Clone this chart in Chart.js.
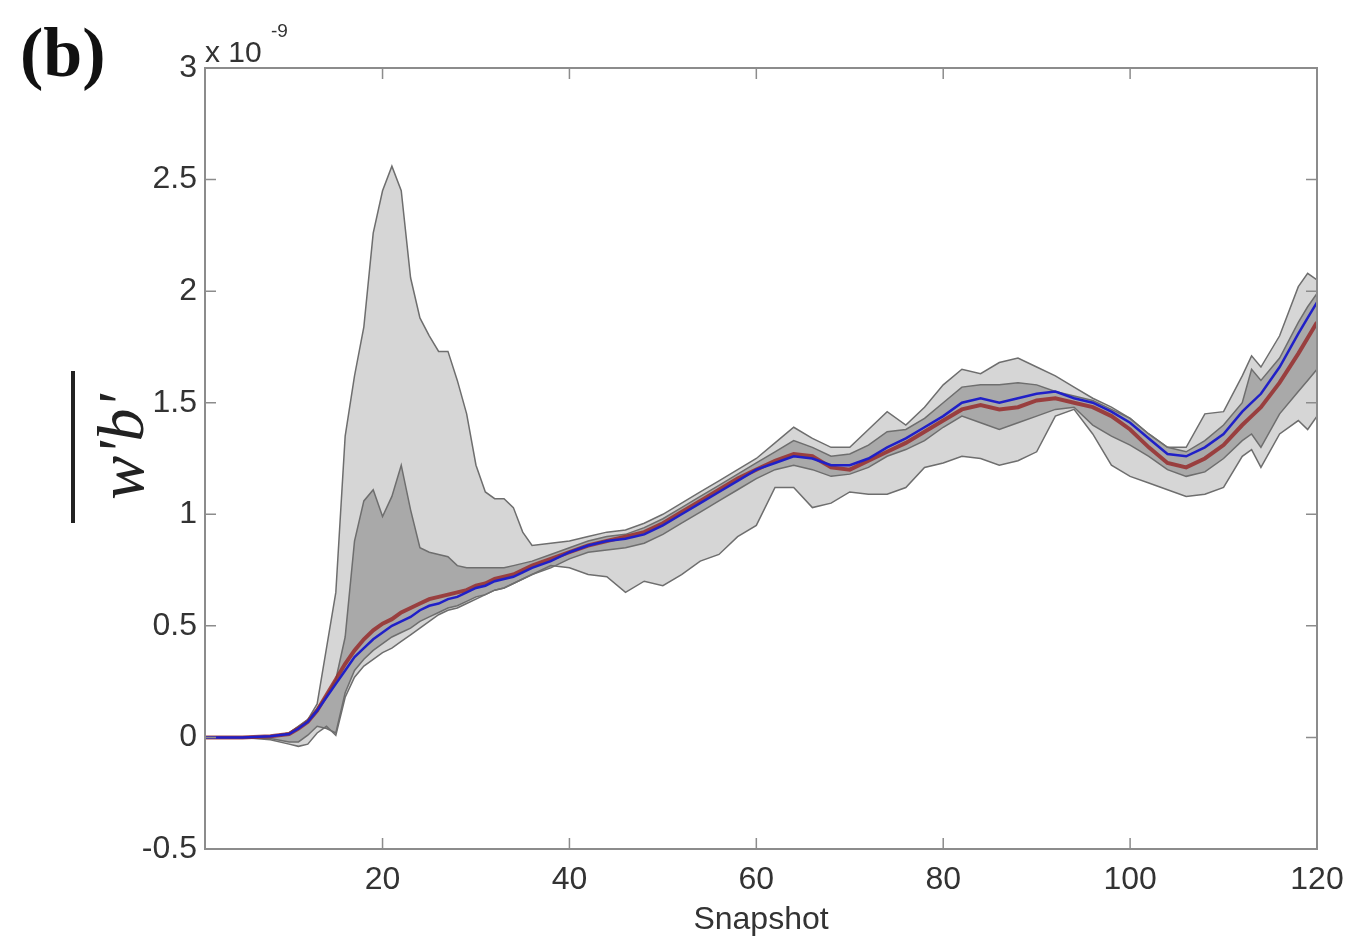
<!DOCTYPE html>
<html>
<head>
<meta charset="utf-8">
<script src="https://cdn.jsdelivr.net/npm/chart.js@4"></script>
<style>
  html, body { margin: 0; padding: 0; background: #fff; }
</style>
</head>
<body>
<canvas id="chart" width="1348" height="943"></canvas>
<script>
const snapshot = [1, 5, 8, 10,
  11, 12, 13, 14, 15, 16, 17, 18, 19, 20,
  21, 22, 23, 24, 25, 26, 27, 28, 29, 30,
  31, 32, 33, 34, 35, 36,
  38, 40, 42, 44, 46, 48, 50, 52, 54, 56,
  58, 60, 62, 64, 66, 68, 70, 72, 74, 76,
  78, 80, 82, 84, 86, 88, 90, 92, 94, 96,
  98, 100, 102, 104, 106, 108, 110, 112,
  113, 114, 116, 118, 119, 120];

// values in units of 1e-9
const meanBlue = [0, 0, 0.005, 0.015,
  0.04, 0.07, 0.12, 0.18, 0.24, 0.30, 0.36, 0.40, 0.44, 0.47,
  0.50, 0.52, 0.54, 0.57, 0.59, 0.60, 0.62, 0.63, 0.65, 0.67,
  0.68, 0.70, 0.71, 0.72, 0.74, 0.76,
  0.79, 0.83, 0.86, 0.88, 0.89, 0.91, 0.95, 1.00, 1.05, 1.10,
  1.15, 1.20, 1.23, 1.26, 1.25, 1.22, 1.22, 1.25, 1.30, 1.34,
  1.39, 1.44, 1.50, 1.52, 1.50, 1.52, 1.54, 1.55, 1.52, 1.50,
  1.46, 1.41, 1.34, 1.27, 1.26, 1.30, 1.36, 1.46,
  1.50, 1.54, 1.66, 1.81, 1.88, 1.95];

const meanRed = [0, 0, 0.005, 0.015,
  0.04, 0.07, 0.12, 0.19, 0.26, 0.33, 0.39, 0.44, 0.48, 0.51,
  0.53, 0.56, 0.58, 0.60, 0.62, 0.63, 0.64, 0.65, 0.66, 0.68,
  0.69, 0.71, 0.72, 0.73, 0.75, 0.77,
  0.80, 0.83, 0.86, 0.88, 0.90, 0.92, 0.96, 1.01, 1.06, 1.11,
  1.16, 1.20, 1.24, 1.27, 1.26, 1.21, 1.20, 1.24, 1.28, 1.32,
  1.37, 1.42, 1.47, 1.49, 1.47, 1.48, 1.51, 1.52, 1.50, 1.48,
  1.44, 1.38, 1.30, 1.23, 1.21, 1.25, 1.31, 1.40,
  1.44, 1.48, 1.59, 1.72, 1.79, 1.86];

const innerUpper = [0, 0, 0.005, 0.02,
  0.05, 0.08, 0.13, 0.19, 0.26, 0.45, 0.88, 1.06, 1.11, 0.99,
  1.08, 1.22, 1.02, 0.85, 0.83, 0.82, 0.81, 0.77, 0.76, 0.76,
  0.76, 0.76, 0.76, 0.77, 0.78, 0.79,
  0.82, 0.85, 0.88, 0.90, 0.91, 0.94, 0.98, 1.03, 1.08, 1.13,
  1.18, 1.23, 1.28, 1.33, 1.30, 1.26, 1.27, 1.31, 1.37, 1.38,
  1.43, 1.50, 1.57, 1.58, 1.58, 1.59, 1.58, 1.55, 1.53, 1.51,
  1.47, 1.43, 1.36, 1.30, 1.28, 1.33, 1.40, 1.50,
  1.65, 1.60, 1.70, 1.86, 1.93, 1.99];

const innerLower = [0, 0, -0.005, -0.02,
  -0.02, 0.01, 0.05, 0.04, 0.02, 0.20, 0.30, 0.35, 0.39, 0.42,
  0.45, 0.47, 0.49, 0.52, 0.54, 0.56, 0.58, 0.59, 0.61, 0.63,
  0.64, 0.66, 0.67, 0.69, 0.71, 0.73,
  0.76, 0.80, 0.83, 0.84, 0.85, 0.87, 0.91, 0.96, 1.01, 1.06,
  1.11, 1.16, 1.20, 1.22, 1.20, 1.17, 1.18, 1.21, 1.26, 1.29,
  1.33, 1.39, 1.44, 1.41, 1.38, 1.41, 1.44, 1.47, 1.48, 1.40,
  1.35, 1.31, 1.26, 1.20, 1.17, 1.19, 1.25, 1.33,
  1.36, 1.30, 1.45, 1.55, 1.60, 1.65];

const outerUpper = [0, 0, 0.005, 0.02,
  0.05, 0.08, 0.15, 0.40, 0.65, 1.35, 1.62, 1.84, 2.26, 2.45,
  2.56, 2.45, 2.06, 1.88, 1.80, 1.73, 1.73, 1.60, 1.45, 1.22,
  1.10, 1.07, 1.07, 1.03, 0.92, 0.86,
  0.87, 0.88, 0.90, 0.92, 0.93, 0.96, 1.00, 1.05, 1.10, 1.15,
  1.20, 1.25, 1.32, 1.39, 1.34, 1.30, 1.30, 1.38, 1.46, 1.40,
  1.48, 1.58, 1.65, 1.63, 1.68, 1.70, 1.66, 1.62, 1.57, 1.52,
  1.48, 1.43, 1.36, 1.30, 1.30, 1.45, 1.46, 1.62,
  1.71, 1.66, 1.80, 2.02, 2.08, 2.05];

const outerLower = [0, 0, -0.01, -0.03,
  -0.04, -0.03, 0.02, 0.05, 0.01, 0.18, 0.27, 0.32, 0.35, 0.38,
  0.40, 0.43, 0.46, 0.49, 0.52, 0.55, 0.57, 0.58, 0.60, 0.62,
  0.64, 0.66, 0.67, 0.69, 0.71, 0.73,
  0.77, 0.76, 0.73, 0.72, 0.65, 0.70, 0.68, 0.73, 0.79, 0.82,
  0.90, 0.95, 1.12, 1.12, 1.03, 1.05, 1.10, 1.09, 1.09, 1.12,
  1.21, 1.23, 1.26, 1.25, 1.22, 1.24, 1.28, 1.44, 1.47, 1.36,
  1.22, 1.17, 1.14, 1.11, 1.08, 1.09, 1.12, 1.26,
  1.29, 1.21, 1.36, 1.42, 1.38, 1.44];

const xTicks = [20, 40, 60, 80, 100, 120];
const yTicks = [-0.5, 0, 0.5, 1, 1.5, 2, 2.5, 3];

function pts(vals) {
  return snapshot.map((s, i) => ({ x: s, y: vals[i] }));
}

const edge = '#6e6e6e';

// box, inward ticks and the annotations MATLAB puts around the axes
const frame = {
  id: 'frame',
  afterDraw(chart) {
    const ctx = chart.ctx;
    const a = chart.chartArea;
    const xs = chart.scales.x, ys = chart.scales.y;
    ctx.save();
    ctx.strokeStyle = '#8c8c8c';
    ctx.lineWidth = 2;
    ctx.strokeRect(a.left, a.top, a.right - a.left, a.bottom - a.top);
    ctx.lineWidth = 1.5;
    ctx.beginPath();
    xTicks.forEach(v => {
      const px = xs.getPixelForValue(v);
      ctx.moveTo(px, a.bottom); ctx.lineTo(px, a.bottom - 11);
      ctx.moveTo(px, a.top); ctx.lineTo(px, a.top + 11);
    });
    yTicks.forEach(v => {
      const py = ys.getPixelForValue(v);
      ctx.moveTo(a.left, py); ctx.lineTo(a.left + 11, py);
      ctx.moveTo(a.right, py); ctx.lineTo(a.right - 11, py);
    });
    ctx.stroke();

    ctx.fillStyle = '#333';
    ctx.textAlign = 'left';
    ctx.textBaseline = 'alphabetic';
    ctx.font = '30px "Liberation Sans", Arial, sans-serif';
    ctx.fillText('x 10', a.left, a.top - 6);
    ctx.font = '19px "Liberation Sans", Arial, sans-serif';
    ctx.fillText('-9', a.left + 66, a.top - 31);

    ctx.fillStyle = '#111';
    ctx.font = 'bold 70px "Liberation Serif", "Times New Roman", serif';
    ctx.fillText('(b)', 20, 76);

    // y label: w'b' with an overline, rotated
    ctx.translate(143, 447);
    ctx.rotate(-Math.PI / 2);
    ctx.fillStyle = '#222';
    ctx.textAlign = 'center';
    ctx.font = 'italic 66px "Liberation Serif", "Times New Roman", serif';
    ctx.fillText("w'b'", 0, 0);
    ctx.fillRect(-76, -72, 152, 4);
    ctx.restore();
  }
};

const chart = new Chart(document.getElementById('chart'), {
  type: 'line',
  data: {
    datasets: [
      { label: 'blue', data: pts(meanBlue), borderColor: '#2020c8', borderWidth: 2.5 },
      { label: 'red', data: pts(meanRed), borderColor: 'rgba(150,45,45,0.85)', borderWidth: 4 },
      { label: 'inner upper', data: pts(innerUpper), borderColor: edge, borderWidth: 1.5,
        fill: '+1', backgroundColor: '#a9a9a9' },
      { label: 'inner lower', data: pts(innerLower), borderColor: edge, borderWidth: 1.5 },
      { label: 'outer upper', data: pts(outerUpper), borderColor: edge, borderWidth: 1.5,
        fill: '+1', backgroundColor: '#d6d6d6' },
      { label: 'outer lower', data: pts(outerLower), borderColor: edge, borderWidth: 1.5 }
    ]
  },
  options: {
    responsive: false,
    animation: false,
    devicePixelRatio: 1,
    layout: { padding: { left: 0, top: 68, right: 31, bottom: 0 } },
    elements: { point: { radius: 0 }, line: { tension: 0 } },
    plugins: {
      legend: { display: false },
      tooltip: { enabled: false },
      filler: { drawTime: 'beforeDatasetsDraw' }
    },
    scales: {
      x: {
        type: 'linear',
        min: 1,
        max: 120,
        afterBuildTicks: s => { s.ticks = xTicks.map(v => ({ value: v })); },
        afterFit: s => { s.height = 94; s.paddingLeft = 0; s.paddingRight = 0; },
        grid: { display: false, drawTicks: false },
        border: { display: false },
        ticks: {
          padding: 12,
          maxRotation: 0,
          color: '#333',
          font: { family: '"Liberation Sans", Arial, sans-serif', size: 32 },
          callback: v => String(v)
        },
        title: {
          display: true,
          text: 'Snapshot',
          color: '#333',
          font: { family: '"Liberation Sans", Arial, sans-serif', size: 32 },
          padding: { top: 2, bottom: 4 }
        }
      },
      y: {
        min: -0.5,
        max: 3,
        afterBuildTicks: s => { s.ticks = yTicks.map(v => ({ value: v })); },
        afterFit: s => { s.width = 205; s.paddingTop = 0; s.paddingBottom = 0; },
        grid: { display: false, drawTicks: false },
        border: { display: false },
        ticks: {
          padding: 8,
          color: '#333',
          font: { family: '"Liberation Sans", Arial, sans-serif', size: 32 },
          callback: v => String(v)
        }
      }
    }
  },
  plugins: [frame]
});
</script>
</body>
</html>
